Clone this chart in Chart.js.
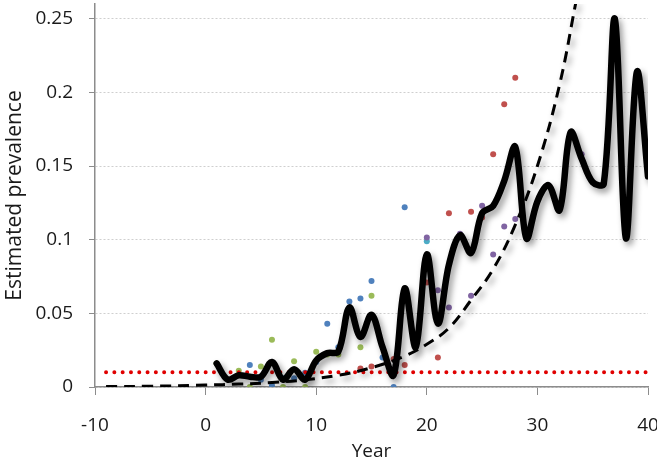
<!doctype html>
<html>
<head>
  <meta charset="utf-8">
  <title>Estimated prevalence by year</title>
  <script src="https://cdn.jsdelivr.net/npm/chart.js@4.4.1/dist/chart.umd.min.js"></script>
  <style>
    html,body{margin:0;padding:0;background:#fff;}
    #wrap{width:657px;height:463px;position:relative;}
  </style>
</head>
<body>
<div id="wrap"><canvas id="prev"></canvas></div>

<script>
// ---- data ----
const xTicks = [-10, 0, 10, 20, 30, 40];
const yTicks = [0, 0.05, 0.1, 0.15, 0.2, 0.25];
const yTickLabels = ['0', '0.05', '0.1', '0.15', '0.2', '0.25'];

// smoothed estimate (thick black line)
const estYears  = [1,2,3,4,5,6,7,8,9,10,11,12,13,14,15,16,17,18,19,20,21,22,23,24,25,26,27,28,29,30,31,32,33,34,35,36,37,38,39,40];
const estValues = [0.016,0.005,0.008,0.007,0.007,0.017,0.005,0.012,0.005,0.018,0.023,0.024,0.054,0.034,0.049,0.027,0.008,0.067,0.027,0.090,0.043,0.083,0.103,0.091,0.118,0.123,0.140,0.163,0.101,0.126,0.137,0.120,0.173,0.155,0.139,0.138,0.250,0.101,0.214,0.143];

// fitted trend (dashed line)
const trendYears  = [-9,-5,0,3,6,9,12,15,18,20,22,24,26,28,30,32,33.5];
const trendValues = [0.0003,0.0005,0.0013,0.002,0.003,0.0049,0.008,0.0131,0.021,0.029,0.040,0.059,0.080,0.110,0.150,0.205,0.262];

// threshold (red dotted line)
const threshYears  = [-9, 40];
const threshValues = [0.01, 0.01];

// observations
const blueX  = [4,5,6,7,8,9,10,11,12,13,14,15,16,17,18];
const blueY  = [0.015,0.005,0.001,0.006,0.006,0.0096,0.017,0.043,0.027,0.058,0.060,0.072,0.020,0,0.122];
const greenX = [1,3,4,5,6,7,8,9,10,11,12,14,15];
const greenY = [0.016,0.011,0,0.014,0.032,0,0.0175,0,0.024,0.022,0.022,0.027,0.062];
const redX   = [14,15,17,18,20,21,22,24,25,26,27,28];
const redY   = [0.0125,0.014,0.019,0.015,0.071,0.020,0.118,0.119,0.115,0.158,0.192,0.210];
const purpleX = [20,21,22,23,24,25,26,27,28,31,34,37,40];
const purpleY = [0.1015,0.0657,0.054,0.104,0.062,0.123,0.090,0.109,0.114,0.137,0.158,0.25,0.143];
const tealX  = [20];
const tealY  = [0.099];

const pts = (xs, ys) => xs.map((x, i) => ({x, y: ys[i]}));

// drop shadow for the black lines
const shadowPlugin = {
  id: 'shadow',
  beforeDatasetDraw(chart, args) {
    if (!chart.data.datasets[args.index].shadow) return;
    const ctx = chart.ctx;
    ctx.save();
    ctx.shadowColor = 'rgba(0,0,0,0.4)';
    ctx.shadowBlur = 6;
    ctx.shadowOffsetX = 3;
    ctx.shadowOffsetY = 4;
  },
  afterDatasetDraw(chart, args) {
    if (chart.data.datasets[args.index].shadow) chart.ctx.restore();
  }
};

const dots = (label, xs, ys, color) => ({
  label, data: pts(xs, ys), order: 5,
  pointRadius: 3, pointBackgroundColor: color, pointBorderWidth: 0,
  borderColor: color, showLine: false
});

const font = {family: "'Open Sans', sans-serif", size: 19};
const txt = '#1a1a1a';

new Chart(document.getElementById('prev'), {
  type: 'scatter',
  data: {
    datasets: [
      {label: 'estimate', data: pts(estYears, estValues), showLine: true, shadow: true,
       borderColor: '#000', borderWidth: 6.5, tension: 0.35, pointRadius: 0, order: 1,
       borderJoinStyle: 'round', borderCapStyle: 'round'},
      {label: 'trend', data: pts(trendYears, trendValues), showLine: true, shadow: true,
       borderColor: '#000', borderWidth: 3, borderDash: [11, 7], tension: 0.4, pointRadius: 0, order: 2},
      {label: 'threshold', data: pts(threshYears, threshValues), showLine: true,
       borderColor: '#e00000', borderWidth: 4, borderDash: [0, 8.3], borderCapStyle: 'round',
       pointRadius: 0, order: 3},
      dots('blue', blueX, blueY, '#4f81bd'),
      dots('green', greenX, greenY, '#9bbb59'),
      dots('red', redX, redY, '#c0504d'),
      dots('purple', purpleX, purpleY, '#8064a2'),
      dots('teal', tealX, tealY, '#4bacc6')
    ]
  },
  options: {
    responsive: true,
    maintainAspectRatio: false,
    animation: false,
    layout: {padding: {left: 0, right: 9, top: 0, bottom: 0}},
    plugins: {legend: {display: false}, tooltip: {enabled: false}},
    scales: {
      x: {
        type: 'linear', min: -10, max: 40,
        afterBuildTicks: s => { s.ticks = xTicks.map(v => ({value: v})); },
        afterFit: s => { s.height = 76; s.paddingLeft = 0; s.paddingRight = 0; },
        ticks: {font, color: txt, padding: 19, maxRotation: 0},
        grid: {drawOnChartArea: false, drawTicks: true, tickLength: 8, tickColor: '#8c8c8c'},
        border: {color: '#8c8c8c', width: 1.5},
        title: {display: true, text: 'Year', font, color: txt, padding: {top: 0, bottom: 0}}
      },
      y: {
        min: 0, max: 0.26,
        afterBuildTicks: s => { s.ticks = yTicks.map(v => ({value: v})); },
        afterFit: s => { s.width = 95; s.paddingTop = 0; s.paddingBottom = 0; },
        ticks: {font, color: txt, padding: 16, callback: (v, i) => yTickLabels[i]},
        grid: {color: '#cfcfcf', lineWidth: 1, drawTicks: true, tickLength: 6, tickColor: '#8c8c8c'},
        border: {color: '#8c8c8c', width: 1.5, dash: [2, 2]},
        title: {display: true, text: 'Estimated prevalence', font: {family: font.family, size: 21}, color: txt, padding: {top: 2, bottom: 0}}
      }
    }
  },
  plugins: [shadowPlugin]
});
</script>
</body>
</html>
